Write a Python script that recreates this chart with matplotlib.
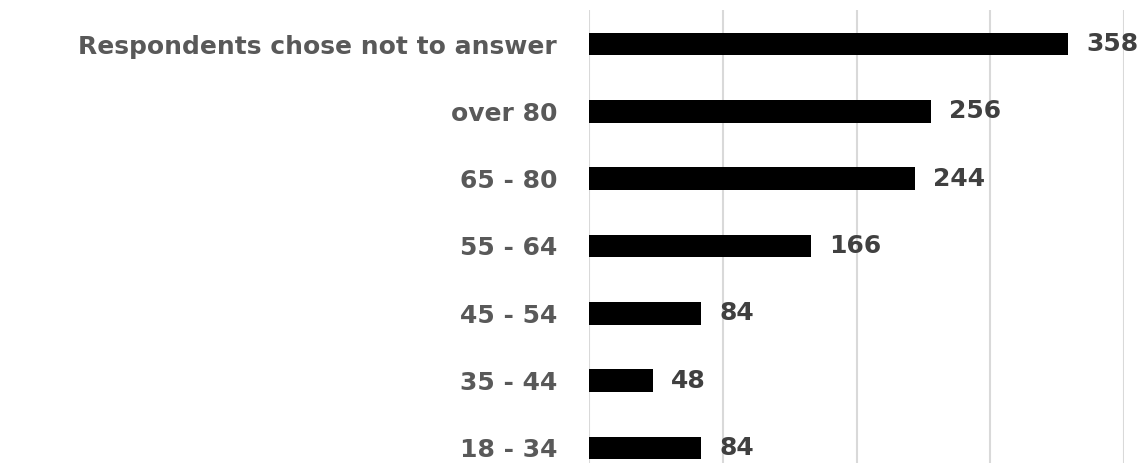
import numpy as np
from matplotlib import pyplot as plt

plt.rcParams['font.family'] = ['DejaVu Sans']

categories = ["18 - 34", "35 - 44", "45 - 54", "55 - 64", "65 - 80", "over 80",
              "Respondents chose not to answer"]
counts = [84, 48, 84, 166, 244, 256, 358]

fig = plt.figure(figsize=(11.48, 4.63), dpi=100)
ax = fig.add_axes([589 / 1148, 0, (1124 - 589) / 1148, 1 - 10 / 463])

y = np.arange(len(categories))
ax.barh(y, counts, height=0.34, color="black", zorder=3)

for yi, c in zip(y, counts):
    ax.annotate(str(c), (c, yi), xytext=(13, 0), textcoords="offset points",
                ha="left", va="center", fontsize=18, fontweight="bold",
                color="#404040")

ax.set_xlim(0, 400)
ax.set_ylim(-0.223, 6.505)
ax.set_xticks([0, 100, 200, 300, 400])
ax.xaxis.grid(True, color="#d9d9d9", linewidth=1.5)
ax.set_axisbelow(True)
ax.tick_params(axis="x", length=0, labelbottom=False)
ax.tick_params(axis="y", length=0, pad=23)
ax.set_yticks(y)
ax.set_yticklabels(categories, fontsize=18, fontweight="bold", color="#595959")
for s in ax.spines.values():
    s.set_visible(False)

fig.savefig("out.png", dpi=100)
